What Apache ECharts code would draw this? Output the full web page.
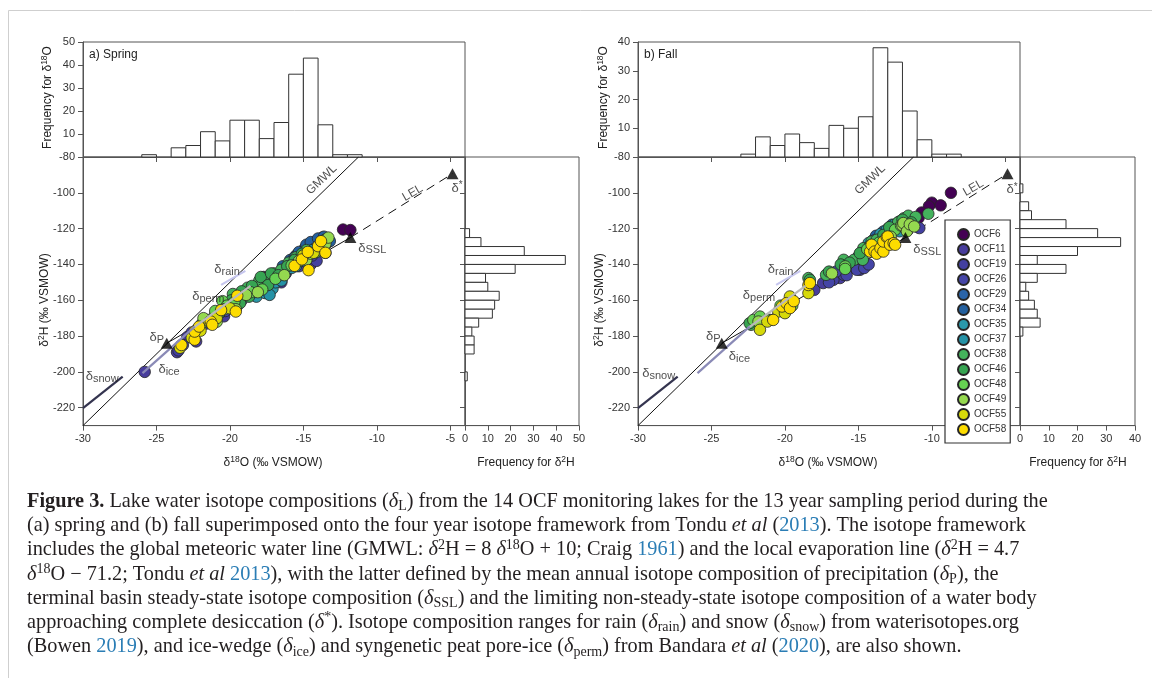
<!DOCTYPE html>
<html><head><meta charset="utf-8">
<script src="https://cdn.jsdelivr.net/npm/echarts@6/dist/echarts.min.js"></script>
<style>html,body{margin:0;padding:0;background:#fff}#c{width:1152px;height:678px}</style>
</head><body><div id="c"></div><script>
const FONT = '"Liberation Sans", Arial, sans-serif';
const SERIF = '"Liberation Serif", "Times New Roman", serif';

const lakeNames = ['OCF6','OCF11','OCF19','OCF26','OCF29','OCF34','OCF35','OCF37','OCF38','OCF46','OCF48','OCF49','OCF55','OCF58'];
const lakeColors = ['#440154','#483d9c','#4340a0','#4545a6','#2a64a8','#24609e','#2a98aa','#2592a6','#44b25c','#37a452','#66d152','#95d84f','#d6d90a','#fddc00'];

// axis tick values
const o18Ticks = [-30,-25,-20,-15,-10,-5];
const h2Ticks = [-220,-200,-180,-160,-140,-120,-100,-80];

// delta18O histograms: bin left edge (1 permil wide) and counts
const springO18Bins = [-26,-25,-24,-23,-22,-21,-20,-19,-18,-17,-16,-15,-14,-13,-12];
const springO18Counts = [1,0,4,5,11,7,16,16,8,15,36,43,14,1,1];
const fallO18Bins = [-23,-22,-21,-20,-19,-18,-17,-16,-15,-14,-13,-12,-11,-10,-9];
const fallO18Counts = [1,7,4,8,5,3,11,10,14,38,33,16,6,1,1];
// delta2H histograms: bin upper edge (5 permil wide) and counts
const springH2Bins = [-120,-125,-130,-135,-140,-145,-150,-155,-160,-165,-170,-175,-180,-185,-190,-195,-200];
const springH2Counts = [2,7,26,44,22,9,10,15,13,12,6,3,4,4,0,0,1];
const fallH2Bins = [-95,-100,-105,-110,-115,-120,-125,-130,-135,-140,-145,-150,-155,-160,-165,-170,-175];
const fallH2Counts = [1,0,3,4,16,27,35,20,6,16,6,2,3,5,6,7,1];

// isotope framework
const gmwlLine = [[-30,-230],[-11.25,-80]];
const deltaP = [-24.3,-184];
const deltaSSL = [-11.8,-125];
const deltaStar = [-4.85,-89.3];
const rainRange = [[-20.6,-151.4],[-18.95,-143.6]];
const permRange = [[-22.5,-175.5],[-18.6,-152]];
const iceRange = [[-25.95,-200.7],[-22.4,-174.7]];
const snowRange = [[-30,-220.3],[-27.3,-202.6]];

// spring lake data [d18O, d2H]
const springOCF6 = [[-12.3,-120.5],[-11.8,-120.8],[-16.5,-148.5],[-17.7,-147]];
const springOCF11 = [[-25.8,-200],[-23.6,-189],[-22.9,-180.5],[-22.3,-183],[-20.4,-169],[-19.5,-163],[-16.5,-150],[-15.3,-141],[-14.5,-140],[-13.5,-133.5]];
const springOCF19 = [[-23.5,-188],[-22.6,-178],[-21.6,-173],[-20.8,-168],[-19.2,-160],[-18.2,-157],[-17.5,-152],[-15.1,-136],[-14.1,-138],[-13.6,-130]];
const springOCF26 = [[-23.2,-185],[-21.1,-170],[-20.3,-166],[-19.8,-162],[-18.0,-152],[-16.2,-145],[-15.4,-138],[-14.4,-135],[-13.4,-128]];
const springOCF29 = [[-16.3,-142],[-16.0,-140],[-15.8,-138.5],[-15.5,-135],[-15.2,-134.5],[-15.0,-133],[-14.9,-131],[-14.6,-130],[-14.3,-129],[-14.1,-127],[-13.9,-126.5],[-13.7,-125]];
const springOCF34 = [[-16.4,-141],[-15.9,-137.5],[-15.6,-136],[-15.3,-133],[-15.0,-136],[-14.8,-129],[-14.5,-127.5],[-14.2,-131],[-14.0,-125.5],[-13.6,-124.5],[-13.2,-127]];
const springOCF35 = [[-18.2,-158],[-17.6,-156],[-17.1,-153.5],[-16.6,-147],[-16.2,-144],[-15.7,-140],[-15.4,-139.5],[-15.2,-137.5],[-14.7,-134],[-14.1,-132.5],[-13.9,-129]];
const springOCF37 = [[-18.4,-155.5],[-17.3,-157],[-16.9,-150],[-16.5,-149],[-15.8,-142],[-15.5,-141],[-15.0,-138],[-14.9,-135],[-14.4,-132],[-13.8,-127.5]];
const springOCF38 = [[-21.9,-173],[-21.0,-168],[-20.0,-162],[-19.8,-156.5],[-19.5,-158],[-18.8,-153],[-18.0,-149],[-17.8,-151],[-17.5,-148],[-17.0,-145],[-16.5,-143],[-16.0,-139],[-15.5,-136],[-14.8,-132]];
const springOCF46 = [[-20.7,-167],[-19.9,-160],[-19.3,-161.5],[-19.2,-155],[-18.7,-158],[-18.5,-152],[-17.9,-147],[-17.4,-151.5],[-17.2,-145],[-16.7,-146],[-16.1,-141],[-15.6,-137.5],[-15.1,-134]];
const springOCF48 = [[-22.2,-176],[-21.5,-171],[-21.0,-166],[-20.5,-160.5],[-20.2,-163],[-19.7,-161],[-18.6,-155.5],[-17.8,-154],[-16.9,-148],[-15.8,-140.5],[-14.9,-136],[-14.1,-133],[-13.5,-126]];
const springOCF49 = [[-21.8,-170],[-20.9,-172],[-20.4,-165],[-19.6,-165],[-18.9,-157],[-18.1,-155.5],[-16.3,-146],[-15.3,-138],[-14.8,-137.5],[-14.5,-134],[-13.9,-132],[-13.5,-128.5],[-13.3,-125]];
const springOCF55 = [[-23.4,-186.5],[-22.6,-181],[-22.0,-177],[-21.4,-172],[-20.9,-170],[-20.0,-164.5],[-15.0,-135],[-14.3,-133.5]];
const springOCF58 = [[-23.3,-185],[-22.4,-182],[-22.4,-177.5],[-22.1,-174.7],[-21.3,-171.9],[-21.2,-173.7],[-20.6,-165.5],[-19.6,-166.3],[-19.5,-157.5],[-15.6,-140.8],[-15.1,-137.2],[-14.65,-143.2],[-14.7,-133],[-14.0,-129.8],[-13.5,-133.5],[-13.8,-127]];

// fall lake data [d18O, d2H]
const fallOCF6 = [[-8.7,-100],[-10.0,-105.5],[-9.4,-107],[-10.2,-107.5],[-10.7,-111],[-10.9,-114],[-11.3,-116.5]];
const fallOCF11 = [[-18.0,-154.2],[-17.4,-150.4],[-16.9,-147.6],[-16.5,-144.9],[-16.25,-147.6],[-11.2,-118.5]];
const fallOCF19 = [[-16.7,-148.6],[-16.0,-145.8],[-15.5,-142],[-14.9,-143],[-14.7,-141.1],[-10.85,-119.7]];
const fallOCF26 = [[-17.0,-150],[-16.5,-143.9],[-15.8,-146],[-15.1,-143],[-14.6,-142],[-14.3,-140]];
const fallOCF29 = [[-14.2,-130],[-13.6,-125.3],[-13.3,-121.6],[-13.0,-122.5],[-12.7,-117.8],[-12.3,-119.8],[-12.2,-116],[-12.0,-119]];
const fallOCF34 = [[-14.5,-130.8],[-14.0,-126.5],[-13.8,-124],[-13.4,-124.8],[-12.9,-119.5],[-12.6,-121],[-12.4,-118.5]];
const fallOCF35 = [[-15.0,-135.5],[-14.3,-128],[-13.5,-123],[-13.07,-120.6],[-12.6,-118]];
const fallOCF37 = [[-13.9,-126.5],[-13.7,-128.5],[-12.8,-122.5],[-12.2,-121.5]];
const fallOCF38 = [[-22.3,-173.7],[-18.4,-147.6],[-17.2,-145.8],[-16.0,-137.4],[-15.3,-137.4],[-14.7,-137.4],[-14.66,-130.9],[-14.1,-127.2],[-13.75,-126.2],[-13.2,-125.6],[-12.7,-121],[-12.3,-116.5],[-11.9,-114.2],[-11.6,-112.8],[-11.1,-113.5],[-10.24,-111.7]];
const fallOCF46 = [[-22.4,-172.8],[-21.0,-171],[-18.3,-148.6],[-17.0,-144],[-16.2,-140],[-15.6,-139],[-14.9,-133.7],[-14.2,-129.5],[-13.3,-123.5],[-12.9,-119.2],[-12.0,-115],[-11.4,-116.5]];
const fallOCF48 = [[-22.15,-171],[-21.7,-169.1],[-21.2,-171],[-20.3,-163],[-19.5,-163],[-15.9,-141.1],[-15.9,-142.5],[-14.4,-131.5],[-13.6,-127.9],[-12.5,-120.6],[-12.1,-118.3]];
const fallOCF49 = [[-21.8,-171.9],[-16.8,-145],[-13.0,-127.5],[-12.8,-124.5],[-12.0,-118.2],[-11.94,-116.9],[-11.7,-121.5],[-11.5,-117.6],[-11.2,-118.8]];
const fallOCF55 = [[-21.7,-176.5],[-21.2,-171.9],[-20.45,-166.3],[-20.0,-167.2],[-19.66,-157.9],[-18.4,-156]];
const fallOCF58 = [[-20.8,-171],[-20.2,-163.5],[-19.9,-161.6],[-19.66,-164.4],[-19.4,-160.5],[-18.4,-151.5],[-18.3,-150.4],[-14.2,-132.8],[-14.1,-129],[-13.9,-132.8],[-13.75,-134],[-13.5,-130.9],[-13.3,-132.8],[-13.3,-127.2],[-13.07,-124.7],[-13.0,-124.4],[-12.85,-129],[-12.6,-128.1],[-12.5,-129]];

const springSets = [springOCF6,springOCF11,springOCF19,springOCF26,springOCF29,springOCF34,springOCF35,springOCF37,springOCF38,springOCF46,springOCF48,springOCF49,springOCF55,springOCF58];
const fallSets = [fallOCF6,fallOCF11,fallOCF19,fallOCF26,fallOCF29,fallOCF34,fallOCF35,fallOCF37,fallOCF38,fallOCF46,fallOCF48,fallOCF49,fallOCF55,fallOCF58];

// ---------- build ----------
const axLine = {show:true, onZero:false, lineStyle:{color:'#555', width:1}};
const tickLabel = {color:'#333', fontSize:11, fontFamily:FONT, margin:8};
const gridBase = {show:true, borderColor:'#555', borderWidth:1, backgroundColor:'rgba(0,0,0,0)', containLabel:false, outerBoundsMode:'none'};

const grids = [
  Object.assign({left:83, top:42, width:382, height:115}, gridBase),
  Object.assign({left:83, top:157, width:382, height:268.6}, gridBase),
  Object.assign({left:465, top:157, width:114, height:268.6}, gridBase),
  Object.assign({left:638, top:42, width:382, height:115}, gridBase),
  Object.assign({left:638, top:157, width:382, height:268.6}, gridBase),
  Object.assign({left:1020, top:157, width:115, height:268.6}, gridBase)
];

function xTopHist(g){ return {gridIndex:g, type:'value', min:-30, max:-4, axisLine:axLine,
  axisTick:{show:true, length:5, inside:false, lineStyle:{color:'#555'}, customValues:o18Ticks.slice(1)},
  axisLabel:{show:false}, splitLine:{show:false}}; }
function xScatter(g){ return {gridIndex:g, type:'value', min:-30, max:-4, axisLine:axLine,
  axisTick:{show:true, length:5, lineStyle:{color:'#555'}, customValues:o18Ticks},
  axisLabel:Object.assign({customValues:o18Ticks}, tickLabel), splitLine:{show:false}}; }
function xRightHist(g, mx){ return {gridIndex:g, type:'value', min:0, max:mx, interval:10, axisLine:axLine,
  axisTick:{show:true, length:5, lineStyle:{color:'#555'}},
  axisLabel:tickLabel, splitLine:{show:false}}; }
function yTopHist(g, mx){ return {gridIndex:g, type:'value', min:0, max:mx, interval:10, axisLine:axLine,
  axisTick:{show:true, length:5, lineStyle:{color:'#555'}},
  axisLabel:Object.assign({formatter:v => v === 0 ? '' : String(v)}, tickLabel), splitLine:{show:false}}; }
function yScatter(g){ return {gridIndex:g, type:'value', min:-230, max:-80, axisLine:axLine,
  axisTick:{show:true, length:5, lineStyle:{color:'#555'}, customValues:h2Ticks},
  axisLabel:Object.assign({customValues:h2Ticks}, tickLabel), splitLine:{show:false}}; }
function yRightHist(g){ return {gridIndex:g, type:'value', min:-230, max:-80, axisLine:axLine,
  axisTick:{show:true, length:5, lineStyle:{color:'#555'}, customValues:h2Ticks.slice(0,-1)},
  axisLabel:{show:false}, splitLine:{show:false}}; }

const barStyle = {fill:'#fff', stroke:'#333', lineWidth:1};
function renderVBar(params, api){
  const c = api.value(2); if (!c) return null;
  const p0 = api.coord([api.value(0), c]);
  const p1 = api.coord([api.value(1), 0]);
  return {type:'rect', shape:{x:p0[0], y:p0[1], width:p1[0]-p0[0], height:p1[1]-p0[1]}, style:barStyle};
}
function renderHBar(params, api){
  const c = api.value(2); if (!c) return null;
  const p0 = api.coord([0, api.value(1)]);
  const p1 = api.coord([c, api.value(0)]);
  return {type:'rect', shape:{x:p0[0], y:p0[1], width:p1[0]-p0[0], height:p1[1]-p0[1]}, style:barStyle};
}
function topHist(ai, bins, counts){
  return {type:'custom', xAxisIndex:ai, yAxisIndex:ai, renderItem:renderVBar, silent:true,
    encode:{x:[0,1], y:2}, data:bins.map((b,i)=>[b, b+1, counts[i]])};
}
function sideHist(ai, bins, counts){
  return {type:'custom', xAxisIndex:ai, yAxisIndex:ai, renderItem:renderHBar, silent:true,
    encode:{y:[0,1], x:2}, data:bins.map((b,i)=>[b-5, b, counts[i]])};
}

function lineS(ai, data, color, width, z, type){
  return {type:'line', xAxisIndex:ai, yAxisIndex:ai, data:data, symbol:'none', silent:true, z:z,
    lineStyle:{color:color, width:width, type:type || 'solid'}, emphasis:{disabled:true}};
}
const labRich = {
  d:{fontSize:13, fontFamily:FONT, color:'#222', lineHeight:16},
  s:{fontSize:11, fontFamily:FONT, color:'#222', lineHeight:9, verticalAlign:'bottom'},
  u:{fontSize:10, fontFamily:FONT, color:'#222', lineHeight:9, verticalAlign:'top'},
  t:{fontSize:12, fontFamily:FONT, color:'#222', lineHeight:16}
};
function labelItem(x, y, text, pos, rot){
  return {value:[x,y], label:{show:true, formatter:text, position:pos, distance:0, rotate:rot || 0, rich:labRich}};
}
function frameworkSeries(ai, labs){
  return [
    lineS(ai, gmwlLine, '#111', 1, 2),
    lineS(ai, [deltaP, deltaSSL], '#111', 1, 2),
    lineS(ai, [deltaSSL, deltaStar], '#111', 1, 2, [9,6]),
    lineS(ai, rainRange, '#c6c6ee', 2.2, 2),
    lineS(ai, snowRange, '#34344f', 2.2, 2),
    {type:'scatter', xAxisIndex:ai, yAxisIndex:ai, data:[deltaP, deltaSSL, deltaStar], symbol:'triangle',
      symbolSize:[12,11], itemStyle:{color:'#000'}, silent:true, z:6},
    {type:'scatter', xAxisIndex:ai, yAxisIndex:ai, data:labs, symbolSize:1, silent:true, z:7,
      itemStyle:{color:'rgba(0,0,0,0)'}}
  ];
}
function rangeOverlay(ai){
  return [
    lineS(ai, permRange, '#b9b9b9', 2.2, 5),
    lineS(ai, iceRange, '#8a8ab6', 2.2, 5)
  ];
}
function lakeSeries(sets, ai){
  return sets.map((d,k)=>({type:'scatter', name:lakeNames[k], xAxisIndex:ai, yAxisIndex:ai, data:d,
    symbol:'circle', symbolSize:11.5, z:4,
    itemStyle:{color:lakeColors[k], borderColor:'#262626', borderWidth:0.8, opacity:1}}));
}

const springLabels = [
  labelItem(-13.76,-92.7,'{t|GMWL}','inside',44),
  labelItem(-7.56,-100.1,'{t|LEL}','inside',30),
  labelItem(-4.95,-97.5,'{d|δ}{u|*}','right'),
  labelItem(-11.3,-130.8,'{d|δ}{s|SSL}','right'),
  labelItem(-25.5,-181,'{d|δ}{s|P}','right'),
  labelItem(-21.1,-143,'{d|δ}{s|rain}','right'),
  labelItem(-22.6,-158,'{d|δ}{s|perm}','right'),
  labelItem(-24.9,-198.9,'{d|δ}{s|ice}','right'),
  labelItem(-29.85,-202.6,'{d|δ}{s|snow}','right')
];
const fallLabels = [
  labelItem(-14.2,-92.7,'{t|GMWL}','inside',44),
  labelItem(-7.17,-97.3,'{t|LEL}','inside',30),
  labelItem(-4.95,-98.3,'{d|δ}{u|*}','right'),
  labelItem(-11.3,-131.4,'{d|δ}{s|SSL}','right'),
  labelItem(-25.4,-180,'{d|δ}{s|P}','right'),
  labelItem(-21.2,-143,'{d|δ}{s|rain}','right'),
  labelItem(-22.9,-157.5,'{d|δ}{s|perm}','right'),
  labelItem(-23.85,-191.5,'{d|δ}{s|ice}','right'),
  labelItem(-29.75,-200.7,'{d|δ}{s|snow}','right')
];

const series = [].concat(
  [topHist(0, springO18Bins, springO18Counts), sideHist(2, springH2Bins, springH2Counts)],
  frameworkSeries(1, springLabels), lakeSeries(springSets, 1), rangeOverlay(1),
  [topHist(3, fallO18Bins, fallO18Counts), sideHist(5, fallH2Bins, fallH2Counts)],
  frameworkSeries(4, fallLabels), lakeSeries(fallSets, 4), rangeOverlay(4)
);

// ---------- graphic texts ----------
const gRich = {
  n:{fontSize:12, fontFamily:FONT, fill:'#222', lineHeight:16},
  sp:{fontSize:8.5, fontFamily:FONT, fill:'#222', lineHeight:9, verticalAlign:'top'}
};
function gText(x, y, text, rot, size){
  return {type:'text', x:x, y:y, rotation:rot || 0, silent:true,
    style:{text:text, rich:gRich, fontSize:size || 12, fontFamily:FONT, fill:'#222', align:'center', verticalAlign:'middle', lineHeight:16}};
}
const CAP = 20.3;
const capRich = {
  b:{fontWeight:'bold', fontSize:CAP, fontFamily:SERIF, fill:'#231f20', lineHeight:24.2},
  i:{fontStyle:'italic', fontSize:CAP, fontFamily:SERIF, fill:'#231f20', lineHeight:24.2},
  l:{fontSize:CAP, fontFamily:SERIF, fill:'#2a7db5', lineHeight:24.2},
  sub:{fontSize:14, fontFamily:SERIF, fill:'#231f20', lineHeight:13, verticalAlign:'bottom'},
  sup:{fontSize:14, fontFamily:SERIF, fill:'#231f20', lineHeight:14, verticalAlign:'top'}
};
const captionLines = [
  '{b|Figure 3.} Lake water isotope compositions ({i|δ}{sub|L}) from the 14 OCF monitoring lakes for the 13 year sampling period during the',
  '(a) spring and (b) fall superimposed onto the four year isotope framework from Tondu {i|et al} ({l|2013}). The isotope framework',
  'includes the global meteoric water line (GMWL: {i|δ}{sup|2}H = 8 {i|δ}{sup|18}O + 10; Craig {l|1961}) and the local evaporation line ({i|δ}{sup|2}H = 4.7',
  '{i|δ}{sup|18}O − 71.2; Tondu {i|et al} {l|2013}), with the latter defined by the mean annual isotope composition of precipitation ({i|δ}{sub|P}), the',
  'terminal basin steady-state isotope composition ({i|δ}{sub|SSL}) and the limiting non-steady-state isotope composition of a water body',
  'approaching complete desiccation ({i|δ}{sup|*}). Isotope composition ranges for rain ({i|δ}{sub|rain}) and snow ({i|δ}{sub|snow}) from waterisotopes.org',
  '(Bowen {l|2019}), and ice-wedge ({i|δ}{sub|ice}) and syngenetic peat pore-ice ({i|δ}{sub|perm}) from Bandara {i|et al} ({l|2020}), are also shown.'
];

const graphic = [
  {type:'line', silent:true, shape:{x1:8.5, y1:10.5, x2:8.5, y2:678}, style:{stroke:'#cfcfcf', lineWidth:1}},
  {type:'line', silent:true, shape:{x1:8.5, y1:10.5, x2:1152, y2:10.5}, style:{stroke:'#cfcfcf', lineWidth:1}},
  gText(48, 97.5, '{n|Frequency for δ}{sp|18}{n|O}', Math.PI/2),
  gText(45, 300, '{n|δ}{sp|2}{n|H (‰ VSMOW)}', Math.PI/2),
  gText(273, 463, '{n|δ}{sp|18}{n|O (‰ VSMOW)}'),
  gText(526, 463, '{n|Frequency for δ}{sp|2}{n|H}'),
  gText(604, 97.5, '{n|Frequency for δ}{sp|18}{n|O}', Math.PI/2),
  gText(600, 300, '{n|δ}{sp|2}{n|H (‰ VSMOW)}', Math.PI/2),
  gText(828, 463, '{n|δ}{sp|18}{n|O (‰ VSMOW)}'),
  gText(1078, 463, '{n|Frequency for δ}{sp|2}{n|H}'),
  {type:'text', x:89, y:55, silent:true, style:{text:'a) Spring', fontSize:12, fontFamily:FONT, fill:'#222', align:'left', verticalAlign:'middle'}},
  {type:'text', x:644, y:55, silent:true, style:{text:'b) Fall', fontSize:12, fontFamily:FONT, fill:'#222', align:'left', verticalAlign:'middle'}},
  {type:'text', x:27, y:489.6, silent:true, style:{text:captionLines.join('\n'), rich:capRich, fontSize:CAP, fontFamily:SERIF,
    fill:'#231f20', lineHeight:24.2, align:'left', verticalAlign:'top'}}
];

const chart = echarts.init(document.getElementById('c'), null, {renderer:'canvas'});
chart.setOption({
  animation:false,
  backgroundColor:'#fff',
  textStyle:{fontFamily:FONT},
  grid:grids,
  xAxis:[xTopHist(0), xScatter(1), xRightHist(2,50), xTopHist(3), xScatter(4), xRightHist(5,40)],
  yAxis:[yTopHist(0,50), yScatter(1), yRightHist(2), yTopHist(3,40), yScatter(4), yRightHist(5)],
  legend:{data:lakeNames, orient:'vertical', left:945, top:220, padding:[8,4,7,12], itemGap:2,
    itemWidth:11, itemHeight:11, itemTextGap:9, icon:'circle', borderColor:'#333', borderWidth:1.2,
    backgroundColor:'#fff', selectedMode:false, textStyle:{fontSize:10, color:'#333', fontFamily:FONT}},
  tooltip:{show:false},
  series:series,
  graphic:graphic
});
</script></body></html>
